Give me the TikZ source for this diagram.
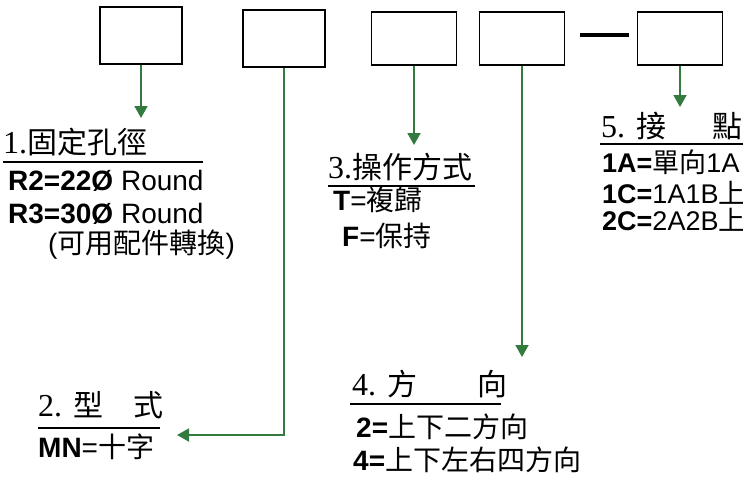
\documentclass[tikz,border=0pt]{standalone}
\usepackage{fontspec}
\setmainfont{Liberation Sans}
\newfontfamily\zhfont{Noto Sans CJK TC}
\newfontfamily\numfont{Liberation Serif}
\newcommand{\zh}[1]{{\zhfont #1}}
\newcommand{\num}[1]{{\numfont\fontsize{32}{36}\selectfont #1}}
\definecolor{lead}{RGB}{50,122,62}
\usetikzlibrary{arrows.meta}

\begin{document}
\begin{tikzpicture}[x=1pt, y=-1pt,
    slot/.style={draw, line width=1.6pt, minimum width=85pt, minimum height=53pt, inner sep=0pt},
    arr/.style={-{Triangle[width=13pt,length=12pt]}, color=lead, line width=1.8pt},
    rule/.style={line width=2.5pt},
    title/.style={anchor=base west, inner sep=0pt, font=\fontsize{30}{36}\selectfont},
    item/.style={anchor=base west, inner sep=0pt, font=\fontsize{28}{32}\selectfont}]
        \useasboundingbox (0,0) rectangle (743,480);
        \clip (0,0) rectangle (743,480);

        % The code boxes
        \node[slot, minimum width=82pt, minimum height=57pt] (b1) at (141,35.5) {};
        \node[slot, minimum width=82pt, minimum height=57pt] (b2) at (284,38.5) {};
        \node[slot] (b3) at (414,38.5) {};
        \node[slot] (b4) at (522,38.5) {};
        \node[slot] (b5) at (680,38.5) {};
        \draw[line width=3.5pt] ([xshift=15pt,yshift=3.5pt]b4.east) -- ([xshift=-8pt,yshift=3.5pt]b5.west);

        % Arrow ends
        \coordinate (p1) at (141,118);
        \coordinate (p2) at (177,435);
        \coordinate (p3) at (414,145);
        \coordinate (p4) at (522,357);
        \coordinate (p5) at (680,107);

        % 1. fixed hole
        \node[title] (t1) at (3,153) {\num{1.}\zh{固定孔徑}};
        \draw[rule] (3,162) -- (203,162);
        \node[item] (r2) at (8,190) {\textbf{R2=22Ø} Round};
        \node[item] (r3) at (8,223) {\textbf{R3=30Ø} Round};
        \node[item] (r4) at (48,253) {(\zh{可用配件轉換})};

        % 2. type
        \node[title] (t2) at (38,416) {\num{2.} \zh{型\quad 式}};
        \draw[rule] (38,428) -- (160,428);
        \node[item] (mn) at (38,457) {\textbf{MN}=\zh{十字}};

        % 3. operation
        \node[title] (t3) at (328,178) {\num{3.}\zh{操作方式}};
        \draw[rule] (328,186) -- (475,186);
        \node[item] (op1) at (333,210) {\textbf{T}=\zh{複歸}};
        \node[item] (op2) at (342,246) {\textbf{F}=\zh{保持}};

        % 4. direction
        \node[title] (t4) at (352,395) {\num{4.} \zh{方\quad\quad 向}};
        \draw[rule] (350,404) -- (501,404);
        \node[item] (d1) at (356,437) {\textbf{2=}\zh{上下二方向}};
        \node[item] (d2) at (353,470) {\textbf{4=}\zh{上下左右四方向}};

        % 5. contacts
        \node[title] (t5) at (601,137) {\num{5.} \zh{接\hspace{46pt}點}};
        \draw[rule] (600,144) -- (743,144);
        \node[item, font=\fontsize{27}{32}\selectfont] (c1) at (602,172) {\textbf{1A=}\zh{單向}1A};
        \node[item, font=\fontsize{27}{32}\selectfont] (c2) at (602,203) {\textbf{1C=}1A1B\zh{上}};
        \node[item, font=\fontsize{27}{32}\selectfont] (c3) at (602,230) {\textbf{2C=}2A2B\zh{上}};

        % The leaders
        \draw[arr] (b1) -- (p1);
        \draw[arr] (b2) |- (p2);
        \draw[arr] (b3) -- (p3);
        \draw[arr] (b4) -- (p4);
        \draw[arr] (b5) -- (p5);
    \end{tikzpicture}
\end{document}
